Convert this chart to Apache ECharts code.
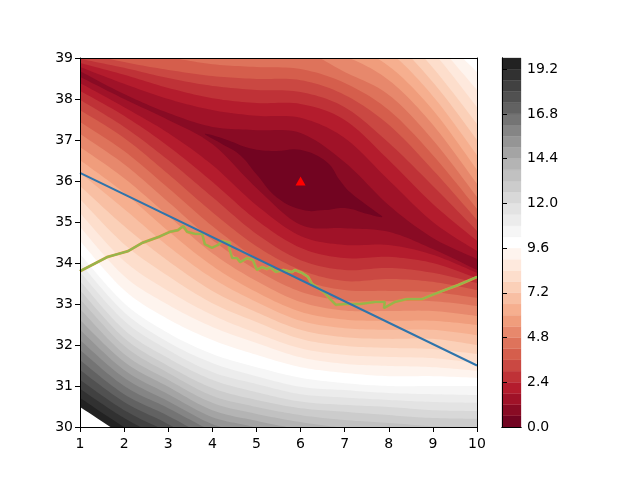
<!DOCTYPE html>
<html>
<head>
<meta charset="utf-8">
<style>html,body{margin:0;padding:0;background:#fff}#chart{width:640px;height:480px}</style>
<script src="https://cdn.jsdelivr.net/npm/echarts@6/dist/echarts.min.js"></script>
</head>
<body>
<div id="chart"></div>
<script>
// contour levels are 0.6 apart, 33 bands from 0 to 19.8
var levelStep = 0.6
var bandCount = 33
var barTicks = [0, 2.4, 4.8, 7.2, 9.6, 12, 14.4, 16.8, 19.2]
var rdgy = ['#67001f', '#b2182b', '#d6604d', '#f4a582', '#fddbc7', '#ffffff', '#e0e0e0', '#bababa', '#878787', '#4d4d4d', '#1a1a1a']

var columns = [1, 2, 3, 4, 5, 6, 7, 8, 9, 10]

// y of each contour above the valley, read per column. row 0 is level 1.2, values over 39 are off the frame
var upperY = [
  [38.68, 38.12, 37.66, 37.32, 37.24, 37.17, 36.46, 35.41, 34.61, 34.10],
  [38.78, 38.37, 38.00, 37.73, 37.59, 37.54, 37.05, 36.02, 35.00, 34.29],
  [38.88, 38.59, 38.27, 38.02, 37.90, 37.88, 37.49, 36.51, 35.44, 34.54],
  [38.98, 38.76, 38.51, 38.32, 38.22, 38.17, 37.80, 36.93, 35.88, 34.78],
  [39.15, 38.90, 38.71, 38.56, 38.49, 38.46, 38.10, 37.37, 36.27, 35.05],
  [39.32, 39.20, 39.02, 38.85, 38.78, 38.73, 38.39, 37.73, 36.63, 35.32],
  [39.60, 39.50, 39.40, 39.30, 39.25, 39.20, 38.66, 38.10, 37.00, 35.61],
  [39.80, 39.70, 39.60, 39.50, 39.40, 39.40, 39.05, 38.46, 37.37, 35.93],
  [40.00, 40.00, 40.00, 39.80, 39.70, 39.60, 39.34, 38.80, 37.73, 36.27],
  [40.00, 40.00, 40.00, 40.00, 40.00, 39.90, 39.63, 39.15, 38.07, 36.63],
  [40.00, 40.00, 40.00, 40.00, 40.00, 40.10, 39.90, 39.49, 38.41, 37.00],
  [40.00, 40.00, 40.00, 40.00, 40.00, 40.30, 40.20, 39.88, 38.76, 37.39],
  [40.00, 40.00, 40.00, 40.00, 40.00, 40.50, 40.60, 40.20, 39.15, 37.80],
  [40.00, 40.00, 40.00, 40.00, 40.00, 40.50, 40.60, 40.40, 39.44, 38.22],
  [40.00, 40.00, 40.00, 40.00, 40.00, 40.50, 40.60, 40.60, 39.68, 38.66]
]

// y of each contour below the valley, row 0 is level 1.2. values under 30 are off the frame
var lowerY = [
  [38.54, 38.00, 37.49, 36.90, 35.83, 34.93, 34.85, 34.76, 34.34, 33.83],
  [38.39, 37.80, 37.17, 36.39, 35.41, 34.66, 34.44, 34.44, 34.20, 33.76],
  [38.20, 37.59, 36.85, 35.98, 35.05, 34.37, 34.12, 34.15, 34.00, 33.63],
  [37.98, 37.32, 36.51, 35.61, 34.71, 34.07, 33.83, 33.88, 33.76, 33.51],
  [37.73, 37.05, 36.17, 35.24, 34.41, 33.83, 33.56, 33.61, 33.54, 33.34],
  [37.44, 36.73, 35.83, 34.90, 34.12, 33.59, 33.34, 33.32, 33.29, 33.15],
  [37.15, 36.41, 35.49, 34.56, 33.83, 33.30, 33.08, 33.07, 33.07, 32.95],
  [36.83, 36.07, 35.15, 34.24, 33.56, 33.05, 32.84, 32.83, 32.83, 32.71],
  [36.51, 35.71, 34.78, 33.93, 33.29, 32.81, 32.62, 32.59, 32.59, 32.49],
  [36.20, 35.32, 34.41, 33.63, 33.05, 32.59, 32.41, 32.37, 32.37, 32.24],
  [35.88, 34.90, 34.05, 33.32, 32.80, 32.37, 32.19, 32.15, 32.15, 32.00],
  [35.56, 34.46, 33.68, 33.02, 32.56, 32.15, 31.98, 31.93, 31.90, 31.78],
  [35.22, 34.05, 33.32, 32.73, 32.29, 31.92, 31.76, 31.71, 31.68, 31.56],
  [34.88, 33.68, 32.98, 32.44, 32.05, 31.70, 31.54, 31.49, 31.46, 31.37],
  [34.54, 33.34, 32.63, 32.12, 31.76, 31.46, 31.32, 31.24, 31.24, 31.20],
  [34.22, 33.02, 32.29, 31.78, 31.46, 31.20, 31.07, 31.00, 31.00, 31.00],
  [34.00, 32.80, 32.07, 31.56, 31.24, 30.98, 30.90, 30.83, 30.80, 30.78],
  [33.78, 32.59, 31.88, 31.34, 31.05, 30.80, 30.72, 30.66, 30.61, 30.59],
  [33.56, 32.37, 31.68, 31.15, 30.85, 30.62, 30.54, 30.49, 30.41, 30.39],
  [33.34, 32.17, 31.49, 30.95, 30.66, 30.46, 30.37, 30.29, 30.22, 30.20],
  [33.12, 31.98, 31.32, 30.76, 30.49, 30.29, 30.17, 30.10, 30.02, 30.00],
  [32.88, 31.78, 31.15, 30.59, 30.32, 30.12, 29.98, 29.90, 29.83, 29.78],
  [32.61, 31.59, 30.98, 30.41, 30.15, 29.93, 29.68, 29.60, 29.50, 29.45],
  [32.37, 31.39, 30.80, 30.24, 29.98, 29.56, 29.30, 29.20, 29.10, 29.00],
  [32.12, 31.20, 30.63, 30.07, 29.78, 29.20],
  [31.88, 31.00, 30.46, 29.90, 29.45],
  [31.63, 30.80, 30.27, 29.68],
  [31.39, 30.61, 30.07, 29.45],
  [31.15, 30.41, 29.88],
  [30.93, 30.22, 29.66],
  [30.71, 30.00, 29.39],
  [30.49, 29.78]
]

// the lowest contour (0.6) is a closed blob round the minimum
var innerRing = [
  [3.83, 37.15], [4.29, 37.02], [4.85, 36.80], [5.42, 36.73], [5.99, 36.76], [6.60, 36.46],
  [6.89, 36.02], [7.12, 35.73], [7.69, 35.26], [7.85, 35.12], [7.50, 35.20], [7.01, 35.34],
  [6.55, 35.29], [6.06, 35.29], [5.47, 35.59], [5.01, 36.15], [4.63, 36.63], [4.17, 36.93]
]

var blueLine = [[1, 36.2], [10, 31.5]]
var pathLine = [
  [1, 33.80], [1.63, 34.15], [1.86, 34.22], [2.09, 34.29], [2.41, 34.49], [2.77, 34.63], [3.04, 34.76],
  [3.22, 34.80], [3.34, 34.90], [3.43, 34.76], [3.61, 34.71], [3.77, 34.71], [3.83, 34.46], [3.99, 34.37],
  [4.13, 34.44], [4.22, 34.54], [4.40, 34.49], [4.38, 34.37], [4.45, 34.12], [4.56, 34.12], [4.63, 34.02],
  [4.79, 34.12], [4.92, 34.07], [5.01, 33.83], [5.13, 33.90], [5.24, 33.85], [5.31, 33.90], [5.44, 33.78],
  [5.60, 33.83], [5.81, 33.78], [5.87, 33.83], [6.03, 33.76], [6.17, 33.66], [6.26, 33.49], [6.40, 33.39],
  [6.55, 33.27], [6.67, 33.12], [6.80, 32.98], [7.01, 33.00], [7.35, 33.00], [7.69, 33.05], [7.91, 33.05],
  [7.89, 32.90], [8.14, 33.05], [8.41, 33.12], [8.75, 33.12], [8.98, 33.22], [9.27, 33.34], [9.57, 33.46],
  [10, 33.66]
]
var minimum = [[6, 36]]

var chart = echarts.init(document.getElementById('chart'), null, { renderer: 'canvas' })

var font = 'DejaVu Sans'
var bandColors = []
for (var b = 0; b < bandCount; b++) {
  bandColors.push(echarts.color.lerp((b + 0.5) / bandCount, rdgy))
}

// catmull-rom through screen points, so the column readings do not show as corners
function smoothCurve(pts) {
  var out = []
  for (var i = 0; i < pts.length - 1; i++) {
    var p0 = pts[Math.max(i - 1, 0)], p1 = pts[i], p2 = pts[i + 1], p3 = pts[Math.min(i + 2, pts.length - 1)]
    for (var s = 0; s < 12; s++) {
      var t = s / 12, t2 = t * t, t3 = t2 * t
      out.push([
        0.5 * (2 * p1[0] + (p2[0] - p0[0]) * t + (2 * p0[0] - 5 * p1[0] + 4 * p2[0] - p3[0]) * t2 + (3 * p1[0] - p0[0] - 3 * p2[0] + p3[0]) * t3),
        0.5 * (2 * p1[1] + (p2[1] - p0[1]) * t + (2 * p0[1] - 5 * p1[1] + 4 * p2[1] - p3[1]) * t2 + (3 * p1[1] - p0[1] - 3 * p2[1] + p3[1]) * t3)
      ])
    }
  }
  out.push(pts[pts.length - 1])
  return out
}

function renderBand(params, api) {
  var level = api.value(0) // contour number, 1 to 33
  var fill = bandColors[level - 1]
  if (level === 1) {
    return {
      type: 'polygon',
      shape: { points: innerRing.map(function (p) { return api.coord(p) }), smooth: 0.4 },
      style: { fill: fill }
    }
  }
  var low = lowerY[level - 2].map(function (y, i) { return api.coord([columns[i], y]) })
  var points = smoothCurve(low)
  points.push(api.coord([10, 28]))
  var up = upperY[level - 2]
  if (up) {
    points = points.concat(smoothCurve(up.map(function (y, i) { return api.coord([columns[i], y]) })).reverse())
  } else {
    points.push(api.coord([10, 41]), api.coord([1, 41]))
  }
  return { type: 'polygon', shape: { points: points }, style: { fill: fill } }
}

function renderBarCell(params, api) {
  var a = api.coord([0, api.value(0)])
  var b = api.coord([1, api.value(1)])
  return {
    type: 'rect',
    shape: { x: a[0], y: b[1], width: b[0] - a[0], height: a[1] - b[1] },
    style: { fill: bandColors[params.dataIndex], stroke: bandColors[params.dataIndex], lineWidth: 0.3 }
  }
}

var bandData = []
for (var k = bandCount; k >= 1; k--) bandData.push([k])
var barData = bandColors.map(function (c, i) { return [i * levelStep, (i + 1) * levelStep] })

var lineAxis = { lineStyle: { color: '#000', width: 1 } }
var tick = { length: 5, lineStyle: { color: '#000', width: 1 } }
var xLabel = { color: '#000', fontSize: 14, fontFamily: font, margin: 10 }
var yLabel = { color: '#000', fontSize: 14, fontFamily: font, margin: 7 }

chart.setOption({
  animation: false,
  backgroundColor: '#fff',
  grid: [
    { left: 80, top: 58, width: 397, height: 369 },
    { left: 502, top: 58, width: 19, height: 369 }
  ],
  xAxis: [
    { gridIndex: 0, type: 'value', min: 1, max: 10, interval: 1, position: 'bottom', z: 10, splitLine: { show: false }, axisLine: lineAxis, axisTick: tick, axisLabel: xLabel },
    { gridIndex: 0, type: 'value', min: 1, max: 10, position: 'top', z: 10, splitLine: { show: false }, axisLine: lineAxis, axisTick: { show: false }, axisLabel: { show: false } },
    { gridIndex: 1, type: 'value', min: 0, max: 1, position: 'bottom', z: 10, splitLine: { show: false }, axisLine: lineAxis, axisTick: { show: false }, axisLabel: { show: false } },
    { gridIndex: 1, type: 'value', min: 0, max: 1, position: 'top', z: 10, splitLine: { show: false }, axisLine: lineAxis, axisTick: { show: false }, axisLabel: { show: false } }
  ],
  yAxis: [
    { gridIndex: 0, type: 'value', min: 30, max: 39, interval: 1, position: 'left', z: 10, splitLine: { show: false }, axisLine: lineAxis, axisTick: tick, axisLabel: yLabel },
    { gridIndex: 0, type: 'value', min: 30, max: 39, position: 'right', z: 10, splitLine: { show: false }, axisLine: lineAxis, axisTick: { show: false }, axisLabel: { show: false } },
    {
      gridIndex: 1, type: 'value', min: 0, max: bandCount * levelStep, position: 'right', z: 10,
      splitLine: { show: false }, axisLine: lineAxis,
      axisTick: { length: 5, lineStyle: tick.lineStyle, customValues: barTicks },
      axisLabel: {
        color: '#000', fontSize: 14, fontFamily: font, margin: 6, customValues: barTicks,
        formatter: function (v) { return v.toFixed(1) }
      }
    },
    { gridIndex: 1, type: 'value', min: 0, max: bandCount * levelStep, position: 'left', z: 10, splitLine: { show: false }, axisLine: lineAxis, axisTick: { show: false }, axisLabel: { show: false } }
  ],
  series: [
    { type: 'custom', xAxisIndex: 0, yAxisIndex: 0, clip: true, silent: true, z: 1, renderItem: renderBand, data: bandData },
    {
      type: 'line', xAxisIndex: 0, yAxisIndex: 0, z: 3, data: pathLine, showSymbol: false, symbol: 'none',
      lineStyle: { color: '#d0a03c', width: 2.8 }
    },
    {
      type: 'line', xAxisIndex: 0, yAxisIndex: 0, z: 4, data: pathLine, showSymbol: false, symbol: 'none',
      lineStyle: { color: '#93b64e', width: 2 }
    },
    {
      type: 'line', xAxisIndex: 0, yAxisIndex: 0, z: 5, data: blueLine, showSymbol: false, symbol: 'none',
      lineStyle: { color: '#2f74ab', width: 2 }
    },
    {
      type: 'scatter', xAxisIndex: 0, yAxisIndex: 0, z: 6, data: minimum, symbol: 'triangle', symbolSize: [10, 9],
      itemStyle: { color: '#ff0000', opacity: 1 }
    },
    { type: 'custom', xAxisIndex: 2, yAxisIndex: 2, silent: true, z: 1, renderItem: renderBarCell, encode: { x: -1, y: [0, 1] }, data: barData }
  ]
})
</script>
</body>
</html>
